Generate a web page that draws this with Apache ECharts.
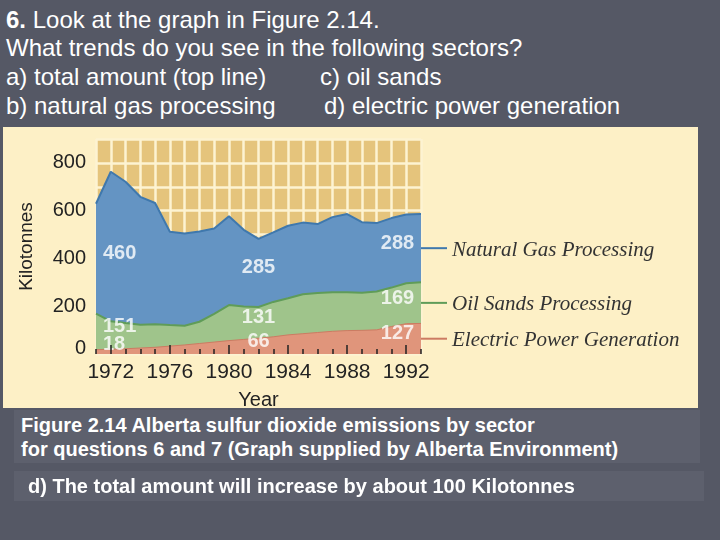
<!DOCTYPE html>
<html><head><meta charset="utf-8">
<script src="https://cdn.jsdelivr.net/npm/echarts@6/dist/echarts.min.js"></script>
<style>
html,body{margin:0;padding:0;background:#555865;}
#wrap{position:relative;width:720px;height:540px;background:#555865;overflow:hidden;font-family:"Liberation Sans",Arial,sans-serif;}
.t{position:absolute;left:6px;color:#fff;font-size:24px;line-height:28px;white-space:nowrap;}
#panel{position:absolute;left:3px;top:127px;width:695px;height:281px;background:#fdf0c6;}
#c{position:absolute;left:0;top:0;width:720px;height:540px;}
.box{position:absolute;background:#5d606d;color:#fff;font-weight:bold;font-size:20px;white-space:nowrap;}
</style>
</head><body>
<div id="wrap">
  <div class="t" style="top:6px"><b>6.</b> Look at the graph in Figure 2.14.</div>
  <div class="t" style="top:34px">What trends do you see in the following sectors?</div>
  <div class="t" style="top:63px">a) total amount (top line)</div>
  <div class="t" style="top:63px;left:320px">c) oil sands</div>
  <div class="t" style="top:92px">b) natural gas processing</div>
  <div class="t" style="top:92px;left:324px">d) electric power generation</div>
  <div id="panel"></div>
  <div id="c"></div>
  <div class="box" style="left:14px;top:410px;width:686px;height:53px;"><div style="position:absolute;left:7px;top:3px;line-height:24px;">Figure 2.14 Alberta sulfur dioxide emissions by sector<br>for questions 6 and 7 (Graph supplied by Alberta Environment)</div></div>
  <div class="box" style="left:14px;top:471px;width:690px;height:30px;"><div style="position:absolute;left:14px;top:4px;line-height:22px;">d) The total amount will increase by about 100 Kilotonnes</div></div>
</div>
<script>
const years = [1971,1972,1973,1974,1975,1976,1977,1978,1979,1980,1981,1982,1983,1984,1985,1986,1987,1988,1989,1990,1991,1992,1993];
const electricPower = [18,20,22,25,28,33,38,44,50,56,61,66,72,80,85,90,95,98,99,101,115,127,128];
const oilSands = [151,117,108,97,97,88,80,91,118,149,138,131,146,153,165,165,163,160,157,161,163,169,172];
const naturalGas = [460,626,591,536,507,391,386,378,357,372,321,285,291,304,300,289,315,328,296,286,291,288,286];
const seriesNames = ['Electric Power Generation','Oil Sands Processing','Natural Gas Processing'];
const yTickLabels = [0,200,400,600,800];
const xTickLabels = [1972,1976,1980,1984,1988,1992];
const labelledYears = [1971,1982,1992];

const NARROW = '"Liberation Sans Narrow","Arial Narrow","Liberation Sans",Arial,sans-serif';
const areaColors = ['#e0957b','#9fc48b','#6494c3'];
const lineColors = ['#cc7b62','#5f9c58','#3f78ad'];
const seriesData = [electricPower, oilSands, naturalGas];

// cumulative tops of each band (stacked bottom to top)
const cumulative = [];
seriesData.forEach((arr, s) => {
  cumulative.push(arr.map((v, i) => (s > 0 ? cumulative[s - 1][i] : 0) + v));
});

// label points: band middles at the labelled years
const labelPts = [];
labelledYears.forEach((yr, k) => {
  const i = years.indexOf(yr);
  seriesData.forEach((arr, s) => {
    const v = arr[i];
    const base = s > 0 ? cumulative[s - 1][i] : 0;
    const align = k === 0 ? 'left' : (k === 2 ? 'right' : 'center');
    const dx = k === 0 ? 7 : (k === 2 ? 8 : 0);
    labelPts.push({
      value: [yr, base + v / 2],
      label: {formatter: String(v), align: align, offset: [dx, s === 0 && k === 0 ? -7 : -5]}
    });
  });
});

const chart = echarts.init(document.getElementById('c'), null, {renderer: 'canvas'});
const axisBase = {type: 'value', min: 1971, max: 1993, gridIndex: 0};
const option = {
  backgroundColor: 'transparent',
  animation: false,
  grid: {left: 96, top: 139, width: 325, height: 215, show: true, backgroundColor: '#e5c47c', borderWidth: 0},
  xAxis: [
    Object.assign({}, axisBase, {interval: 1, z: 0,
      splitLine: {show: true, lineStyle: {color: '#fdf3d2', width: 2.5}},
      axisLine: {show: false}, axisTick: {show: false}, axisLabel: {show: false}}),
    Object.assign({}, axisBase, {interval: 1, z: 10, position: 'bottom',
      splitLine: {show: false}, axisLine: {show: false},
      axisTick: {show: true, inside: true, length: 5, lineStyle: {color: '#222', width: 1.5}},
      axisLabel: {formatter: v => xTickLabels.includes(v) ? String(v) : '', fontSize: 21, color: '#222', margin: 8, fontFamily: NARROW},
      name: 'Year', nameLocation: 'middle', nameGap: 36,
      nameTextStyle: {fontSize: 20, color: '#222', fontFamily: NARROW}}),
    Object.assign({}, axisBase, {z: 10, position: 'bottom',
      splitLine: {show: false}, axisLine: {show: false},
      axisTick: {show: true, inside: true, length: 9, customValues: xTickLabels, lineStyle: {color: '#222', width: 1.5}},
      axisLabel: {show: false}})
  ],
  yAxis: [{
    type: 'value', min: 0, max: 900, interval: 100,
    splitLine: {show: true, lineStyle: {color: '#fdf3d2', width: 2.5}},
    axisLine: {show: false}, axisTick: {show: false},
    axisLabel: {formatter: v => yTickLabels.includes(v) ? (v === 0 ? '{z|0}' : String(v)) : '',
      fontSize: 20, color: '#222', margin: 10, fontFamily: NARROW,
      rich: {z: {fontSize: 20, color: '#222', fontFamily: NARROW, padding: [0, 0, 12, 0]}}},
    name: 'Kilotonnes', nameLocation: 'middle', nameRotate: 90, nameGap: 60,
    nameTextStyle: {fontSize: 19, color: '#222', fontFamily: NARROW}
  }],
  // draw the tallest band first so each lower band paints over it
  series: [2, 1, 0].map((s, order) => ({
    name: seriesNames[s], type: 'line', xAxisIndex: 0, yAxisIndex: 0,
    symbol: 'none', z: 2 + order,
    data: cumulative[s].map((v, i) => [years[i], v]),
    lineStyle: {color: lineColors[s], width: s === 0 ? 1 : 2},
    areaStyle: {color: areaColors[s], opacity: 1, origin: 'start'}
  })).concat([{
    type: 'scatter', xAxisIndex: 0, yAxisIndex: 0, symbolSize: 0, z: 8, silent: true,
    data: labelPts,
    label: {show: true, position: 'inside', color: '#fff', fontWeight: 'bold', fontSize: 20, fontFamily: NARROW}
  }])
};
chart.setOption(option);

// legend annotations at the right edge, aligned with band middles at the last year
const last = years.length - 1;
const right = 96 + 325;
const gfx = [];
seriesData.forEach((arr, s) => {
  const base = s > 0 ? cumulative[s - 1][last] : 0;
  const mid = base + arr[last] / 2;
  const p = chart.convertToPixel({xAxisIndex: 0, yAxisIndex: 0}, [years[last], mid]);
  gfx.push({type: 'line', shape: {x1: right, y1: p[1], x2: right + 26, y2: p[1]}, style: {stroke: lineColors[s], lineWidth: 2}});
  gfx.push({type: 'text', x: right + 31, y: p[1] + 2, style: {text: seriesNames[s], fill: '#333', font: 'italic 21px "Liberation Serif", "Times New Roman", serif', verticalAlign: 'middle'}});
});
chart.setOption({graphic: {elements: gfx}});
</script>
</body></html>
